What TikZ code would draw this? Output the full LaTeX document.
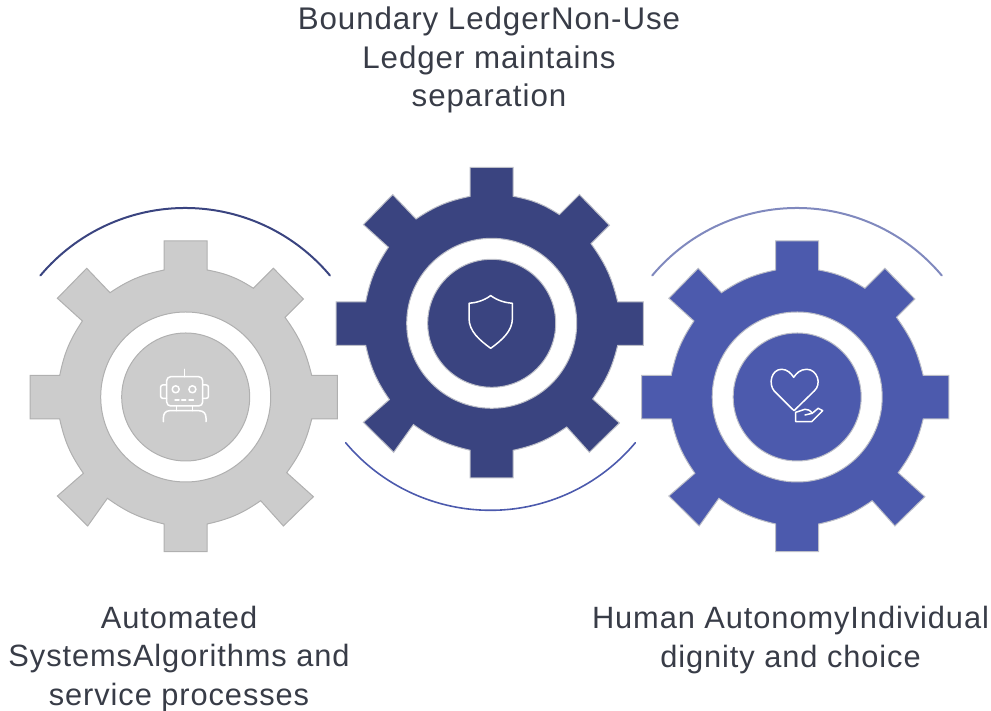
\documentclass[tikz,border=0pt]{standalone}
\usepackage{fontspec}
\setmainfont[LetterSpace=3]{Liberation Sans}
\definecolor{graygear}{HTML}{CCCCCC}
\definecolor{grayedge}{HTML}{B0B0B0}
\definecolor{navygear}{HTML}{3A4480}
\definecolor{bluegear}{HTML}{4C5AAD}
\definecolor{softedge}{HTML}{BCBEC8}
\definecolor{paleline}{HTML}{8089BE}
\definecolor{textgray}{HTML}{383C47}
\begin{document}
\begin{tikzpicture}[x=1pt,y=1pt]
  \tikzset{hub/.style = {shape=circle,minimum size=128pt,inner sep=0pt,line width=1pt}}
  \tikzset{gearbody/.style = {line width=1pt,even odd rule,line join=miter}}
  \tikzset{icon/.style = {draw=white,line width=1.5pt,line cap=round,line join=round}}
  \tikzset{caption/.style = {align=center,inner sep=0pt,text=textgray,font=\fontsize{31.3}{38.5}\selectfont}}
  \tikzset{lowcaption/.style = {caption,font=\fontsize{30.8}{38.5}\selectfont}}
  \useasboundingbox (0,0) rectangle (991,711);

  % the three wheels
  \foreach \name/\cx/\cy/\col/\edge in {robot/185.7/314/graygear/grayedge,shield/491.7/387.7/navygear/softedge,heart/797.2/314/bluegear/softedge}
  {
    \draw[gearbody,fill=\col,draw=\edge,shift={(\cx,\cy)}]
      (-21.5,127) -- (-21.5,156) -- (21.5,156) -- (21.5,127)
      to[bend left=11] (67.7,108.7) -- (87.7,128.7) -- (117.7,98) -- (99.3,79.7)
      to[bend left=11] (126,21.5) -- (151.7,21.5) -- (151.7,-22) -- (126,-22)
      to[bend left=11] (101,-75.7) -- (127.7,-99.7) -- (97.7,-129) -- (75,-103.7)
      to[bend left=11] (21.5,-127) -- (21.5,-154.7) -- (-21.5,-154.7) -- (-21.5,-127)
      to[bend left=11] (-78.3,-101.3) -- (-98,-129) -- (-128.3,-99) -- (-102.3,-76.3)
      to[bend left=11] (-126,-22) -- (-155.7,-22) -- (-155.7,21.5) -- (-126,21.5)
      to[bend left=11] (-103.3,76) -- (-128.3,98.7) -- (-99,128.7) -- (-75.7,104.3)
      to[bend left=11] cycle
      (85,0) arc[start angle=0,end angle=360,radius=85];
    \node[hub,fill=\col,draw=\edge] (hub\name) at (\cx,\cy) {};
  }

  % arcs round the wheels
  \draw[navygear,line width=2pt,line cap=round] (185.2,314) ++(140:189) arc[start angle=140,end angle=40,radius=189];
  \draw[bluegear,line width=1.6pt,line cap=round] (490.5,389.7) ++(220:189) arc[start angle=220,end angle=320,radius=189];
  \draw[paleline,line width=2pt,line cap=round] (797,314) ++(140:189) arc[start angle=140,end angle=40,radius=189];

  % robot
  \begin{scope}[shift={(hubrobot.center)},icon]
    \draw[rounded corners=4pt] (-19,20.3) rectangle (17,-9);
    \draw (-1.3,27.7) -- (-1.3,20.3);
    \draw[rounded corners=2pt] (-19,12) -- (-25,12) -- (-25,-1.3) -- (-19,-1.3);
    \draw[rounded corners=2pt] (17,12) -- (22.7,12) -- (22.7,-1.3) -- (17,-1.3);
    \draw (-10,7.7) circle (3.5);
    \draw (6.7,7.7) circle (3.5);
    \foreach \from/\to in {-10.7/-6.7,-4/0,3.3/7.7}
      \draw (\from,-3) -- (\to,-3);
    \draw (-9,-9) -- (-9,-13.7);
    \draw (7,-9) -- (7,-13.7);
    \draw (-22.3,-24.7) -- (-22.3,-21) .. controls (-22.3,-16.5) and (-20,-13.7) .. (-16,-13.7) -- (13,-13.7) .. controls (18,-13.7) and (20.3,-16.5) .. (20.3,-21) -- (20.3,-24.7);
  \end{scope}

  % shield
  \begin{scope}[shift={(hubshield.center)},icon]
    \draw (-1,27.7) .. controls (-8,22.5) and (-16,20.5) .. (-22.7,20) -- (-22.7,5) .. controls (-22.7,-8) and (-12,-17) .. (-1,-25) .. controls (10,-17) and (20.7,-8) .. (20.7,5) -- (20.7,20) .. controls (14,20.5) and (6,22.5) .. cycle;
  \end{scope}

  % heart and hand
  \begin{scope}[shift={(hubheart.center)},icon]
    \draw (-3.2,-13.7) -- (-23,6) .. controls (-29,13) and (-26,27.7) .. (-15.5,27.7) .. controls (-10,27.7) and (-6,23.5) .. (-3.5,19.7) .. controls (-1,23.5) and (3,27.7) .. (9.5,27.7) .. controls (20,27.7) and (25,13) .. (17,6) -- cycle;
    \draw (-1.5,-15.3) -- (-1.5,-24.7) -- (14.5,-24.7) -- (25.5,-13.7) -- (21,-11.3) -- (15,-16.3) .. controls (13,-13) and (10,-12.3) .. (7.8,-12.3) -- (-1.5,-15.3);
    \draw (7.8,-18) -- (15,-16.3);
  \end{scope}

  % captions
  \node[caption] (topcaption) at (489,651) {Boundary LedgerNon-Use\\Ledger maintains\\separation};
  \node[lowcaption] (leftcaption) at (179,52) {Automated\\SystemsAlgorithms and\\service processes};
  \node[lowcaption] (rightcaption) at (790.5,71) {Human AutonomyIndividual\\dignity and choice};
\end{tikzpicture}
\end{document}
